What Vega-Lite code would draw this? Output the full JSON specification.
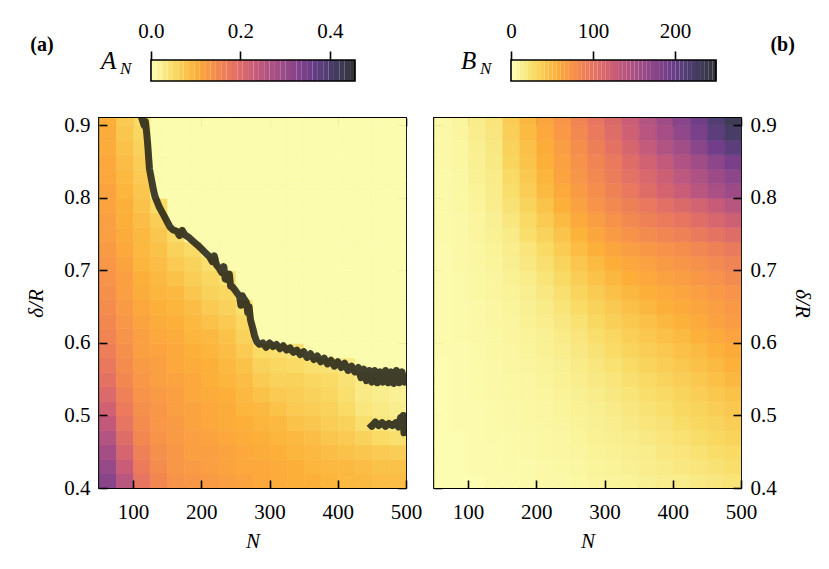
{
  "$schema": "https://vega.github.io/schema/vega-lite/v6.json",
  "autosize": {"type": "pad"},
  "padding": {"left": 24, "top": 20, "right": 5, "bottom": 5},
  "background": "white",
  "datasets": {
    "grid": [
      {"n":62,"d":0.41,"a":0.32,"b":2},{"n":87,"d":0.41,"a":0.25,"b":2},{"n":112,"d":0.41,"a":0.18,"b":2},{"n":137,"d":0.41,"a":0.15,"b":3},{"n":162,"d":0.41,"a":0.135,"b":3},{"n":187,"d":0.41,"a":0.13,"b":4},{"n":212,"d":0.41,"a":0.125,"b":5},{"n":237,"d":0.41,"a":0.12,"b":5},{"n":262,"d":0.41,"a":0.115,"b":6},{"n":287,"d":0.41,"a":0.11,"b":8},{"n":312,"d":0.41,"a":0.105,"b":9},{"n":337,"d":0.41,"a":0.1,"b":10},{"n":362,"d":0.41,"a":0.1,"b":12},{"n":387,"d":0.41,"a":0.095,"b":14},{"n":412,"d":0.41,"a":0.09,"b":15},{"n":437,"d":0.41,"a":0.09,"b":17},{"n":462,"d":0.41,"a":0.085,"b":19},{"n":487,"d":0.41,"a":0.085,"b":21},
      {"n":62,"d":0.43,"a":0.3,"b":2},{"n":87,"d":0.43,"a":0.23,"b":2},{"n":112,"d":0.43,"a":0.17,"b":3},{"n":137,"d":0.43,"a":0.145,"b":3},{"n":162,"d":0.43,"a":0.13,"b":4},{"n":187,"d":0.43,"a":0.125,"b":4},{"n":212,"d":0.43,"a":0.12,"b":5},{"n":237,"d":0.43,"a":0.115,"b":6},{"n":262,"d":0.43,"a":0.11,"b":7},{"n":287,"d":0.43,"a":0.11,"b":9},{"n":312,"d":0.43,"a":0.105,"b":10},{"n":337,"d":0.43,"a":0.1,"b":12},{"n":362,"d":0.43,"a":0.095,"b":14},{"n":387,"d":0.43,"a":0.09,"b":16},{"n":412,"d":0.43,"a":0.09,"b":18},{"n":437,"d":0.43,"a":0.085,"b":20},{"n":462,"d":0.43,"a":0.08,"b":22},{"n":487,"d":0.43,"a":0.08,"b":25},
      {"n":62,"d":0.45,"a":0.28,"b":2},{"n":87,"d":0.45,"a":0.21,"b":2},{"n":112,"d":0.45,"a":0.16,"b":3},{"n":137,"d":0.45,"a":0.14,"b":3},{"n":162,"d":0.45,"a":0.13,"b":4},{"n":187,"d":0.45,"a":0.12,"b":5},{"n":212,"d":0.45,"a":0.12,"b":6},{"n":237,"d":0.45,"a":0.115,"b":7},{"n":262,"d":0.45,"a":0.11,"b":8},{"n":287,"d":0.45,"a":0.105,"b":10},{"n":312,"d":0.45,"a":0.1,"b":11},{"n":337,"d":0.45,"a":0.095,"b":13},{"n":362,"d":0.45,"a":0.09,"b":15},{"n":387,"d":0.45,"a":0.085,"b":18},{"n":412,"d":0.45,"a":0.08,"b":20},{"n":437,"d":0.45,"a":0.075,"b":23},{"n":462,"d":0.45,"a":0.07,"b":26},{"n":487,"d":0.45,"a":0.065,"b":28},
      {"n":62,"d":0.47,"a":0.26,"b":2},{"n":87,"d":0.47,"a":0.195,"b":2},{"n":112,"d":0.47,"a":0.15,"b":3},{"n":137,"d":0.47,"a":0.135,"b":4},{"n":162,"d":0.47,"a":0.125,"b":4},{"n":187,"d":0.47,"a":0.12,"b":5},{"n":212,"d":0.47,"a":0.115,"b":6},{"n":237,"d":0.47,"a":0.11,"b":7},{"n":262,"d":0.47,"a":0.105,"b":9},{"n":287,"d":0.47,"a":0.1,"b":11},{"n":312,"d":0.47,"a":0.095,"b":13},{"n":337,"d":0.47,"a":0.09,"b":15},{"n":362,"d":0.47,"a":0.085,"b":17},{"n":387,"d":0.47,"a":0.075,"b":20},{"n":412,"d":0.47,"a":0.07,"b":23},{"n":437,"d":0.47,"a":0.06,"b":26},{"n":462,"d":0.47,"a":0.05,"b":29},{"n":487,"d":0.47,"a":0.045,"b":32},
      {"n":62,"d":0.49,"a":0.24,"b":2},{"n":87,"d":0.49,"a":0.18,"b":3},{"n":112,"d":0.49,"a":0.145,"b":3},{"n":137,"d":0.49,"a":0.13,"b":4},{"n":162,"d":0.49,"a":0.125,"b":5},{"n":187,"d":0.49,"a":0.115,"b":6},{"n":212,"d":0.49,"a":0.11,"b":7},{"n":237,"d":0.49,"a":0.105,"b":8},{"n":262,"d":0.49,"a":0.1,"b":10},{"n":287,"d":0.49,"a":0.095,"b":12},{"n":312,"d":0.49,"a":0.09,"b":14},{"n":337,"d":0.49,"a":0.08,"b":17},{"n":362,"d":0.49,"a":0.075,"b":20},{"n":387,"d":0.49,"a":0.065,"b":22},{"n":412,"d":0.49,"a":0.06,"b":26},{"n":437,"d":0.49,"a":0.045,"b":29},{"n":462,"d":0.49,"a":0.035,"b":32},{"n":487,"d":0.49,"a":0.03,"b":36},
      {"n":62,"d":0.51,"a":0.22,"b":2},{"n":87,"d":0.51,"a":0.17,"b":3},{"n":112,"d":0.51,"a":0.14,"b":3},{"n":137,"d":0.51,"a":0.13,"b":4},{"n":162,"d":0.51,"a":0.12,"b":5},{"n":187,"d":0.51,"a":0.115,"b":6},{"n":212,"d":0.51,"a":0.11,"b":7},{"n":237,"d":0.51,"a":0.105,"b":9},{"n":262,"d":0.51,"a":0.095,"b":11},{"n":287,"d":0.51,"a":0.09,"b":13},{"n":312,"d":0.51,"a":0.08,"b":16},{"n":337,"d":0.51,"a":0.07,"b":19},{"n":362,"d":0.51,"a":0.065,"b":22},{"n":387,"d":0.51,"a":0.06,"b":25},{"n":412,"d":0.51,"a":0.05,"b":29},{"n":437,"d":0.51,"a":0.035,"b":32},{"n":462,"d":0.51,"a":0.03,"b":36},{"n":487,"d":0.51,"a":0.025,"b":40},
      {"n":62,"d":0.53,"a":0.2,"b":2},{"n":87,"d":0.53,"a":0.16,"b":3},{"n":112,"d":0.53,"a":0.135,"b":4},{"n":137,"d":0.53,"a":0.125,"b":5},{"n":162,"d":0.53,"a":0.12,"b":6},{"n":187,"d":0.53,"a":0.11,"b":7},{"n":212,"d":0.53,"a":0.105,"b":8},{"n":237,"d":0.53,"a":0.1,"b":10},{"n":262,"d":0.53,"a":0.09,"b":12},{"n":287,"d":0.53,"a":0.08,"b":15},{"n":312,"d":0.53,"a":0.07,"b":18},{"n":337,"d":0.53,"a":0.065,"b":21},{"n":362,"d":0.53,"a":0.06,"b":25},{"n":387,"d":0.53,"a":0.055,"b":28},{"n":412,"d":0.53,"a":0.045,"b":32},{"n":437,"d":0.53,"a":0.03,"b":36},{"n":462,"d":0.53,"a":0.025,"b":40},{"n":487,"d":0.53,"a":0.02,"b":44},
      {"n":62,"d":0.55,"a":0.185,"b":2},{"n":87,"d":0.55,"a":0.15,"b":3},{"n":112,"d":0.55,"a":0.13,"b":4},{"n":137,"d":0.55,"a":0.12,"b":5},{"n":162,"d":0.55,"a":0.115,"b":6},{"n":187,"d":0.55,"a":0.11,"b":7},{"n":212,"d":0.55,"a":0.1,"b":9},{"n":237,"d":0.55,"a":0.095,"b":11},{"n":262,"d":0.55,"a":0.085,"b":14},{"n":287,"d":0.55,"a":0.07,"b":17},{"n":312,"d":0.55,"a":0.06,"b":20},{"n":337,"d":0.55,"a":0.06,"b":24},{"n":362,"d":0.55,"a":0.055,"b":28},{"n":387,"d":0.55,"a":0.05,"b":32},{"n":412,"d":0.55,"a":0.04,"b":36},{"n":437,"d":0.55,"a":0.03,"b":40},{"n":462,"d":0.55,"a":0.025,"b":45},{"n":487,"d":0.55,"a":0.02,"b":50},
      {"n":62,"d":0.57,"a":0.175,"b":2},{"n":87,"d":0.57,"a":0.145,"b":3},{"n":112,"d":0.57,"a":0.125,"b":4},{"n":137,"d":0.57,"a":0.12,"b":5},{"n":162,"d":0.57,"a":0.11,"b":7},{"n":187,"d":0.57,"a":0.105,"b":8},{"n":212,"d":0.57,"a":0.1,"b":10},{"n":237,"d":0.57,"a":0.09,"b":12},{"n":262,"d":0.57,"a":0.08,"b":16},{"n":287,"d":0.57,"a":0.06,"b":19},{"n":312,"d":0.57,"a":0.055,"b":23},{"n":337,"d":0.57,"a":0.05,"b":27},{"n":362,"d":0.57,"a":0.045,"b":32},{"n":387,"d":0.57,"a":0.04,"b":36},{"n":412,"d":0.57,"a":0.03,"b":40},{"n":437,"d":0.57,"a":0.005,"b":45},{"n":462,"d":0.57,"a":0.005,"b":49},{"n":487,"d":0.57,"a":0.005,"b":54},
      {"n":62,"d":0.59,"a":0.165,"b":3},{"n":87,"d":0.59,"a":0.14,"b":3},{"n":112,"d":0.59,"a":0.12,"b":4},{"n":137,"d":0.59,"a":0.115,"b":6},{"n":162,"d":0.59,"a":0.11,"b":7},{"n":187,"d":0.59,"a":0.1,"b":9},{"n":212,"d":0.59,"a":0.095,"b":11},{"n":237,"d":0.59,"a":0.085,"b":14},{"n":262,"d":0.59,"a":0.07,"b":18},{"n":287,"d":0.59,"a":0.05,"b":22},{"n":312,"d":0.59,"a":0.045,"b":27},{"n":337,"d":0.59,"a":0.04,"b":31},{"n":362,"d":0.59,"a":0.005,"b":36},{"n":387,"d":0.59,"a":0.005,"b":40},{"n":412,"d":0.59,"a":0.005,"b":45},{"n":437,"d":0.59,"a":0.005,"b":49},{"n":462,"d":0.59,"a":0.005,"b":54},{"n":487,"d":0.59,"a":0.005,"b":58},
      {"n":62,"d":0.61,"a":0.155,"b":3},{"n":87,"d":0.61,"a":0.135,"b":4},{"n":112,"d":0.61,"a":0.12,"b":5},{"n":137,"d":0.61,"a":0.11,"b":6},{"n":162,"d":0.61,"a":0.105,"b":8},{"n":187,"d":0.61,"a":0.095,"b":10},{"n":212,"d":0.61,"a":0.09,"b":12},{"n":237,"d":0.61,"a":0.08,"b":16},{"n":262,"d":0.61,"a":0.06,"b":20},{"n":287,"d":0.61,"a":0.005,"b":25},{"n":312,"d":0.61,"a":0.005,"b":30},{"n":337,"d":0.61,"a":0.005,"b":35},{"n":362,"d":0.61,"a":0.005,"b":40},{"n":387,"d":0.61,"a":0.005,"b":45},{"n":412,"d":0.61,"a":0.005,"b":49},{"n":437,"d":0.61,"a":0.005,"b":54},{"n":462,"d":0.61,"a":0.005,"b":59},{"n":487,"d":0.61,"a":0.005,"b":63},
      {"n":62,"d":0.63,"a":0.15,"b":3},{"n":87,"d":0.63,"a":0.13,"b":4},{"n":112,"d":0.63,"a":0.115,"b":5},{"n":137,"d":0.63,"a":0.105,"b":7},{"n":162,"d":0.63,"a":0.1,"b":8},{"n":187,"d":0.63,"a":0.09,"b":11},{"n":212,"d":0.63,"a":0.08,"b":14},{"n":237,"d":0.63,"a":0.07,"b":18},{"n":262,"d":0.63,"a":0.055,"b":23},{"n":287,"d":0.63,"a":0.005,"b":29},{"n":312,"d":0.63,"a":0.005,"b":35},{"n":337,"d":0.63,"a":0.005,"b":40},{"n":362,"d":0.63,"a":0.005,"b":45},{"n":387,"d":0.63,"a":0.005,"b":50},{"n":412,"d":0.63,"a":0.005,"b":54},{"n":437,"d":0.63,"a":0.005,"b":59},{"n":462,"d":0.63,"a":0.005,"b":64},{"n":487,"d":0.63,"a":0.005,"b":68},
      {"n":62,"d":0.65,"a":0.145,"b":3},{"n":87,"d":0.65,"a":0.125,"b":4},{"n":112,"d":0.65,"a":0.11,"b":5},{"n":137,"d":0.65,"a":0.1,"b":7},{"n":162,"d":0.65,"a":0.095,"b":9},{"n":187,"d":0.65,"a":0.085,"b":12},{"n":212,"d":0.65,"a":0.07,"b":16},{"n":237,"d":0.65,"a":0.06,"b":21},{"n":262,"d":0.65,"a":0.045,"b":27},{"n":287,"d":0.65,"a":0.005,"b":33},{"n":312,"d":0.65,"a":0.005,"b":39},{"n":337,"d":0.65,"a":0.005,"b":45},{"n":362,"d":0.65,"a":0.005,"b":50},{"n":387,"d":0.65,"a":0.005,"b":55},{"n":412,"d":0.65,"a":0.005,"b":58},{"n":437,"d":0.65,"a":0.005,"b":62},{"n":462,"d":0.65,"a":0.005,"b":66},{"n":487,"d":0.65,"a":0.005,"b":70},
      {"n":62,"d":0.67,"a":0.14,"b":3},{"n":87,"d":0.67,"a":0.12,"b":4},{"n":112,"d":0.67,"a":0.105,"b":6},{"n":137,"d":0.67,"a":0.095,"b":8},{"n":162,"d":0.67,"a":0.09,"b":10},{"n":187,"d":0.67,"a":0.075,"b":13},{"n":212,"d":0.67,"a":0.06,"b":18},{"n":237,"d":0.67,"a":0.055,"b":24},{"n":262,"d":0.67,"a":0.005,"b":31},{"n":287,"d":0.67,"a":0.005,"b":38},{"n":312,"d":0.67,"a":0.005,"b":45},{"n":337,"d":0.67,"a":0.005,"b":50},{"n":362,"d":0.67,"a":0.005,"b":55},{"n":387,"d":0.67,"a":0.005,"b":59},{"n":412,"d":0.67,"a":0.005,"b":62},{"n":437,"d":0.67,"a":0.005,"b":66},{"n":462,"d":0.67,"a":0.005,"b":70},{"n":487,"d":0.67,"a":0.005,"b":74},
      {"n":62,"d":0.69,"a":0.135,"b":3},{"n":87,"d":0.69,"a":0.12,"b":4},{"n":112,"d":0.69,"a":0.1,"b":6},{"n":137,"d":0.69,"a":0.09,"b":8},{"n":162,"d":0.69,"a":0.08,"b":11},{"n":187,"d":0.69,"a":0.065,"b":15},{"n":212,"d":0.69,"a":0.055,"b":21},{"n":237,"d":0.69,"a":0.045,"b":28},{"n":262,"d":0.69,"a":0.005,"b":36},{"n":287,"d":0.69,"a":0.005,"b":44},{"n":312,"d":0.69,"a":0.005,"b":50},{"n":337,"d":0.69,"a":0.005,"b":56},{"n":362,"d":0.69,"a":0.005,"b":60},{"n":387,"d":0.69,"a":0.005,"b":64},{"n":412,"d":0.69,"a":0.005,"b":67},{"n":437,"d":0.69,"a":0.005,"b":71},{"n":462,"d":0.69,"a":0.005,"b":75},{"n":487,"d":0.69,"a":0.005,"b":80},
      {"n":62,"d":0.71,"a":0.13,"b":3},{"n":87,"d":0.71,"a":0.115,"b":5},{"n":112,"d":0.71,"a":0.095,"b":7},{"n":137,"d":0.71,"a":0.085,"b":9},{"n":162,"d":0.71,"a":0.07,"b":13},{"n":187,"d":0.71,"a":0.06,"b":18},{"n":212,"d":0.71,"a":0.045,"b":24},{"n":237,"d":0.71,"a":0.005,"b":32},{"n":262,"d":0.71,"a":0.005,"b":41},{"n":287,"d":0.71,"a":0.005,"b":49},{"n":312,"d":0.71,"a":0.005,"b":56},{"n":337,"d":0.71,"a":0.005,"b":61},{"n":362,"d":0.71,"a":0.005,"b":65},{"n":387,"d":0.71,"a":0.005,"b":69},{"n":412,"d":0.71,"a":0.005,"b":72},{"n":437,"d":0.71,"a":0.005,"b":76},{"n":462,"d":0.71,"a":0.005,"b":81},{"n":487,"d":0.71,"a":0.005,"b":86},
      {"n":62,"d":0.73,"a":0.125,"b":3},{"n":87,"d":0.73,"a":0.11,"b":5},{"n":112,"d":0.73,"a":0.09,"b":7},{"n":137,"d":0.73,"a":0.08,"b":10},{"n":162,"d":0.73,"a":0.06,"b":14},{"n":187,"d":0.73,"a":0.05,"b":20},{"n":212,"d":0.73,"a":0.005,"b":28},{"n":237,"d":0.73,"a":0.005,"b":37},{"n":262,"d":0.73,"a":0.005,"b":47},{"n":287,"d":0.73,"a":0.005,"b":55},{"n":312,"d":0.73,"a":0.005,"b":62},{"n":337,"d":0.73,"a":0.005,"b":67},{"n":362,"d":0.73,"a":0.005,"b":71},{"n":387,"d":0.73,"a":0.005,"b":75},{"n":412,"d":0.73,"a":0.005,"b":78},{"n":437,"d":0.73,"a":0.005,"b":83},{"n":462,"d":0.73,"a":0.005,"b":88},{"n":487,"d":0.73,"a":0.005,"b":94},
      {"n":62,"d":0.75,"a":0.12,"b":4},{"n":87,"d":0.75,"a":0.105,"b":5},{"n":112,"d":0.75,"a":0.09,"b":8},{"n":137,"d":0.75,"a":0.075,"b":11},{"n":162,"d":0.75,"a":0.05,"b":16},{"n":187,"d":0.75,"a":0.005,"b":25},{"n":212,"d":0.75,"a":0.005,"b":33},{"n":237,"d":0.75,"a":0.005,"b":43},{"n":262,"d":0.75,"a":0.005,"b":53},{"n":287,"d":0.75,"a":0.005,"b":62},{"n":312,"d":0.75,"a":0.005,"b":69},{"n":337,"d":0.75,"a":0.005,"b":75},{"n":362,"d":0.75,"a":0.005,"b":80},{"n":387,"d":0.75,"a":0.005,"b":84},{"n":412,"d":0.75,"a":0.005,"b":88},{"n":437,"d":0.75,"a":0.005,"b":94},{"n":462,"d":0.75,"a":0.005,"b":100},{"n":487,"d":0.75,"a":0.005,"b":107},
      {"n":62,"d":0.77,"a":0.12,"b":4},{"n":87,"d":0.77,"a":0.1,"b":5},{"n":112,"d":0.77,"a":0.085,"b":8},{"n":137,"d":0.77,"a":0.065,"b":12},{"n":162,"d":0.77,"a":0.005,"b":19},{"n":187,"d":0.77,"a":0.005,"b":28},{"n":212,"d":0.77,"a":0.005,"b":38},{"n":237,"d":0.77,"a":0.005,"b":49},{"n":262,"d":0.77,"a":0.005,"b":59},{"n":287,"d":0.77,"a":0.005,"b":67},{"n":312,"d":0.77,"a":0.005,"b":75},{"n":337,"d":0.77,"a":0.005,"b":82},{"n":362,"d":0.77,"a":0.005,"b":88},{"n":387,"d":0.77,"a":0.005,"b":93},{"n":412,"d":0.77,"a":0.005,"b":98},{"n":437,"d":0.77,"a":0.005,"b":105},{"n":462,"d":0.77,"a":0.005,"b":113},{"n":487,"d":0.77,"a":0.005,"b":122},
      {"n":62,"d":0.79,"a":0.115,"b":4},{"n":87,"d":0.79,"a":0.1,"b":6},{"n":112,"d":0.79,"a":0.08,"b":9},{"n":137,"d":0.79,"a":0.05,"b":14},{"n":162,"d":0.79,"a":0.005,"b":22},{"n":187,"d":0.79,"a":0.005,"b":32},{"n":212,"d":0.79,"a":0.005,"b":43},{"n":237,"d":0.79,"a":0.005,"b":55},{"n":262,"d":0.79,"a":0.005,"b":65},{"n":287,"d":0.79,"a":0.005,"b":74},{"n":312,"d":0.79,"a":0.005,"b":82},{"n":337,"d":0.79,"a":0.005,"b":89},{"n":362,"d":0.79,"a":0.005,"b":96},{"n":387,"d":0.79,"a":0.005,"b":103},{"n":412,"d":0.79,"a":0.005,"b":110},{"n":437,"d":0.79,"a":0.005,"b":118},{"n":462,"d":0.79,"a":0.005,"b":127},{"n":487,"d":0.79,"a":0.005,"b":138},
      {"n":62,"d":0.81,"a":0.115,"b":4},{"n":87,"d":0.81,"a":0.095,"b":6},{"n":112,"d":0.81,"a":0.075,"b":10},{"n":137,"d":0.81,"a":0.005,"b":15},{"n":162,"d":0.81,"a":0.005,"b":25},{"n":187,"d":0.81,"a":0.005,"b":36},{"n":212,"d":0.81,"a":0.005,"b":48},{"n":237,"d":0.81,"a":0.005,"b":59},{"n":262,"d":0.81,"a":0.005,"b":69},{"n":287,"d":0.81,"a":0.005,"b":78},{"n":312,"d":0.81,"a":0.005,"b":87},{"n":337,"d":0.81,"a":0.005,"b":96},{"n":362,"d":0.81,"a":0.005,"b":106},{"n":387,"d":0.81,"a":0.005,"b":116},{"n":412,"d":0.81,"a":0.005,"b":126},{"n":437,"d":0.81,"a":0.005,"b":137},{"n":462,"d":0.81,"a":0.005,"b":149},{"n":487,"d":0.81,"a":0.005,"b":160},
      {"n":62,"d":0.83,"a":0.11,"b":4},{"n":87,"d":0.83,"a":0.09,"b":6},{"n":112,"d":0.83,"a":0.07,"b":11},{"n":137,"d":0.83,"a":0.005,"b":16},{"n":162,"d":0.83,"a":0.005,"b":28},{"n":187,"d":0.83,"a":0.005,"b":40},{"n":212,"d":0.83,"a":0.005,"b":52},{"n":237,"d":0.83,"a":0.005,"b":63},{"n":262,"d":0.83,"a":0.005,"b":73},{"n":287,"d":0.83,"a":0.005,"b":82},{"n":312,"d":0.83,"a":0.005,"b":92},{"n":337,"d":0.83,"a":0.005,"b":102},{"n":362,"d":0.83,"a":0.005,"b":112},{"n":387,"d":0.83,"a":0.005,"b":123},{"n":412,"d":0.83,"a":0.005,"b":135},{"n":437,"d":0.83,"a":0.005,"b":147},{"n":462,"d":0.83,"a":0.005,"b":160},{"n":487,"d":0.83,"a":0.005,"b":172},
      {"n":62,"d":0.85,"a":0.11,"b":5},{"n":87,"d":0.85,"a":0.085,"b":7},{"n":112,"d":0.85,"a":0.065,"b":12},{"n":137,"d":0.85,"a":0.005,"b":17},{"n":162,"d":0.85,"a":0.005,"b":31},{"n":187,"d":0.85,"a":0.005,"b":43},{"n":212,"d":0.85,"a":0.005,"b":55},{"n":237,"d":0.85,"a":0.005,"b":65},{"n":262,"d":0.85,"a":0.005,"b":75},{"n":287,"d":0.85,"a":0.005,"b":85},{"n":312,"d":0.85,"a":0.005,"b":95},{"n":337,"d":0.85,"a":0.005,"b":106},{"n":362,"d":0.85,"a":0.005,"b":119},{"n":387,"d":0.85,"a":0.005,"b":131},{"n":412,"d":0.85,"a":0.005,"b":144},{"n":437,"d":0.85,"a":0.005,"b":158},{"n":462,"d":0.85,"a":0.005,"b":172},{"n":487,"d":0.85,"a":0.005,"b":187},
      {"n":62,"d":0.87,"a":0.105,"b":5},{"n":87,"d":0.87,"a":0.08,"b":7},{"n":112,"d":0.87,"a":0.06,"b":13},{"n":137,"d":0.87,"a":0.005,"b":18},{"n":162,"d":0.87,"a":0.005,"b":33},{"n":187,"d":0.87,"a":0.005,"b":45},{"n":212,"d":0.87,"a":0.005,"b":57},{"n":237,"d":0.87,"a":0.005,"b":67},{"n":262,"d":0.87,"a":0.005,"b":78},{"n":287,"d":0.87,"a":0.005,"b":90},{"n":312,"d":0.87,"a":0.005,"b":101},{"n":337,"d":0.87,"a":0.005,"b":114},{"n":362,"d":0.87,"a":0.005,"b":129},{"n":387,"d":0.87,"a":0.005,"b":143},{"n":412,"d":0.87,"a":0.005,"b":157},{"n":437,"d":0.87,"a":0.005,"b":173},{"n":462,"d":0.87,"a":0.005,"b":191},{"n":487,"d":0.87,"a":0.005,"b":206},
      {"n":62,"d":0.89,"a":0.105,"b":5},{"n":87,"d":0.89,"a":0.075,"b":8},{"n":112,"d":0.89,"a":0.055,"b":14},{"n":137,"d":0.89,"a":0.005,"b":19},{"n":162,"d":0.89,"a":0.005,"b":35},{"n":187,"d":0.89,"a":0.005,"b":48},{"n":212,"d":0.89,"a":0.005,"b":60},{"n":237,"d":0.89,"a":0.005,"b":70},{"n":262,"d":0.89,"a":0.005,"b":82},{"n":287,"d":0.89,"a":0.005,"b":95},{"n":312,"d":0.89,"a":0.005,"b":107},{"n":337,"d":0.89,"a":0.005,"b":121},{"n":362,"d":0.89,"a":0.005,"b":138},{"n":387,"d":0.89,"a":0.005,"b":153},{"n":412,"d":0.89,"a":0.005,"b":169},{"n":437,"d":0.89,"a":0.005,"b":186},{"n":462,"d":0.89,"a":0.005,"b":206},{"n":487,"d":0.89,"a":0.005,"b":223},
      {"n":62,"d":0.91,"a":0.1,"b":5},{"n":87,"d":0.91,"a":0.07,"b":8},{"n":112,"d":0.91,"a":0.05,"b":15},{"n":137,"d":0.91,"a":0.005,"b":20},{"n":162,"d":0.91,"a":0.005,"b":37},{"n":187,"d":0.91,"a":0.005,"b":50},{"n":212,"d":0.91,"a":0.005,"b":62},{"n":237,"d":0.91,"a":0.005,"b":72},{"n":262,"d":0.91,"a":0.005,"b":85},{"n":287,"d":0.91,"a":0.005,"b":98},{"n":312,"d":0.91,"a":0.005,"b":110},{"n":337,"d":0.91,"a":0.005,"b":125},{"n":362,"d":0.91,"a":0.005,"b":142},{"n":387,"d":0.91,"a":0.005,"b":158},{"n":412,"d":0.91,"a":0.005,"b":175},{"n":437,"d":0.91,"a":0.005,"b":193},{"n":462,"d":0.91,"a":0.005,"b":213},{"n":487,"d":0.91,"a":0.005,"b":232}
    ],
    "contour": [
      {"s":"m","n":112,"d":0.912},{"s":"m","n":116,"d":0.9},{"s":"m","n":118,"d":0.905},{"s":"m","n":120,"d":0.888},{"s":"m","n":121,"d":0.878},{"s":"m","n":122,"d":0.866},{"s":"m","n":123,"d":0.852},{"s":"m","n":124,"d":0.84},{"s":"m","n":126,"d":0.83},{"s":"m","n":128,"d":0.82},{"s":"m","n":130,"d":0.81},{"s":"m","n":132,"d":0.802},{"s":"m","n":135,"d":0.795},{"s":"m","n":138,"d":0.788},{"s":"m","n":142,"d":0.781},{"s":"m","n":146,"d":0.774},{"s":"m","n":150,"d":0.767},{"s":"m","n":154,"d":0.76},{"s":"m","n":158,"d":0.756},{"s":"m","n":164,"d":0.754},{"s":"m","n":168,"d":0.748},{"s":"m","n":172,"d":0.755},{"s":"m","n":176,"d":0.749},{"s":"m","n":182,"d":0.745},{"s":"m","n":188,"d":0.74},{"s":"m","n":194,"d":0.735},{"s":"m","n":200,"d":0.73},{"s":"m","n":206,"d":0.724},{"s":"m","n":212,"d":0.719},{"s":"m","n":216,"d":0.712},{"s":"m","n":219,"d":0.72},{"s":"m","n":222,"d":0.708},{"s":"m","n":226,"d":0.703},{"s":"m","n":230,"d":0.697},{"s":"m","n":233,"d":0.705},{"s":"m","n":235,"d":0.688},{"s":"m","n":238,"d":0.687},{"s":"m","n":241,"d":0.695},{"s":"m","n":243,"d":0.678},{"s":"m","n":246,"d":0.677},{"s":"m","n":250,"d":0.672},{"s":"m","n":253,"d":0.668},{"s":"m","n":256,"d":0.664},{"s":"m","n":258,"d":0.652},{"s":"m","n":260,"d":0.665},{"s":"m","n":263,"d":0.66},{"s":"m","n":266,"d":0.656},{"s":"m","n":268,"d":0.642},{"s":"m","n":270,"d":0.65},{"s":"m","n":272,"d":0.632},{"s":"m","n":274,"d":0.625},{"s":"m","n":276,"d":0.618},{"s":"m","n":278,"d":0.61},{"s":"m","n":281,"d":0.602},{"s":"m","n":285,"d":0.598},{"s":"m","n":290,"d":0.6},{"s":"m","n":295,"d":0.594},{"s":"m","n":300,"d":0.6},{"s":"m","n":305,"d":0.595},{"s":"m","n":310,"d":0.598},{"s":"m","n":315,"d":0.592},{"s":"m","n":320,"d":0.596},{"s":"m","n":325,"d":0.59},{"s":"m","n":330,"d":0.593},{"s":"m","n":335,"d":0.587},{"s":"m","n":340,"d":0.59},{"s":"m","n":345,"d":0.584},{"s":"m","n":350,"d":0.588},{"s":"m","n":355,"d":0.58},{"s":"m","n":360,"d":0.585},{"s":"m","n":365,"d":0.577},{"s":"m","n":370,"d":0.582},{"s":"m","n":375,"d":0.574},{"s":"m","n":380,"d":0.579},{"s":"m","n":385,"d":0.571},{"s":"m","n":390,"d":0.576},{"s":"m","n":395,"d":0.568},{"s":"m","n":400,"d":0.574},{"s":"m","n":405,"d":0.566},{"s":"m","n":410,"d":0.572},{"s":"m","n":415,"d":0.562},{"s":"m","n":420,"d":0.568},{"s":"m","n":425,"d":0.56},{"s":"m","n":430,"d":0.566},{"s":"m","n":434,"d":0.552},{"s":"m","n":438,"d":0.564},{"s":"m","n":442,"d":0.548},{"s":"m","n":446,"d":0.562},{"s":"m","n":450,"d":0.546},{"s":"m","n":454,"d":0.562},{"s":"m","n":458,"d":0.545},{"s":"m","n":462,"d":0.56},{"s":"m","n":466,"d":0.546},{"s":"m","n":470,"d":0.562},{"s":"m","n":474,"d":0.545},{"s":"m","n":478,"d":0.56},{"s":"m","n":482,"d":0.544},{"s":"m","n":486,"d":0.562},{"s":"m","n":490,"d":0.545},{"s":"m","n":494,"d":0.56},{"s":"m","n":498,"d":0.546},{"s":"m","n":500,"d":0.556},
      {"s":"f","n":446,"d":0.489},{"s":"f","n":450,"d":0.485},{"s":"f","n":455,"d":0.491},{"s":"f","n":460,"d":0.486},{"s":"f","n":465,"d":0.49},{"s":"f","n":470,"d":0.485},{"s":"f","n":475,"d":0.489},{"s":"f","n":480,"d":0.486},{"s":"f","n":485,"d":0.49},{"s":"f","n":489,"d":0.484},{"s":"f","n":492,"d":0.497},{"s":"f","n":494,"d":0.486},{"s":"f","n":496,"d":0.5},{"s":"f","n":497,"d":0.476},{"s":"f","n":499,"d":0.495}
    ],
    "cba": [
      {"va":0.006},{"va":0.018},{"va":0.03},{"va":0.042},{"va":0.054},{"va":0.066},{"va":0.078},{"va":0.09},{"va":0.102},{"va":0.114},{"va":0.126},{"va":0.138},{"va":0.15},{"va":0.162},{"va":0.174},{"va":0.186},{"va":0.198},{"va":0.21},{"va":0.222},{"va":0.234},{"va":0.246},{"va":0.258},{"va":0.27},{"va":0.282},{"va":0.294},{"va":0.306},{"va":0.318},{"va":0.33},{"va":0.342},{"va":0.354},{"va":0.366},{"va":0.378},{"va":0.39},{"va":0.402},{"va":0.414},{"va":0.426},{"va":0.438},{"va":0.45}
    ],
    "cbb": [
      {"vb":2.5},{"vb":7.5},{"vb":12.5},{"vb":17.5},{"vb":22.5},{"vb":27.5},{"vb":32.5},{"vb":37.5},{"vb":42.5},{"vb":47.5},{"vb":52.5},{"vb":57.5},{"vb":62.5},{"vb":67.5},{"vb":72.5},{"vb":77.5},{"vb":82.5},{"vb":87.5},{"vb":92.5},{"vb":97.5},{"vb":102.5},{"vb":107.5},{"vb":112.5},{"vb":117.5},{"vb":122.5},{"vb":127.5},{"vb":132.5},{"vb":137.5},{"vb":142.5},{"vb":147.5},{"vb":152.5},{"vb":157.5},{"vb":162.5},{"vb":167.5},{"vb":172.5},{"vb":177.5},{"vb":182.5},{"vb":187.5},{"vb":192.5},{"vb":197.5},{"vb":202.5},{"vb":207.5},{"vb":212.5},{"vb":217.5},{"vb":222.5},{"vb":227.5},{"vb":232.5},{"vb":237.5},{"vb":242.5},{"vb":247.5}
    ]
  },
  "columns": 2,
  "bounds": "flush",
  "align": "each",
  "spacing": {"row": 37, "column": 28},
  "concat": [
    {
      "width": 307,
      "height": 21,
      "view": {"stroke": null},
      "title": {"text": "(a)", "orient": "left", "angle": 0, "align": "right", "baseline": "middle", "anchor": "middle", "offset": 22, "dy": -26, "fontSize": 20, "fontWeight": "bold", "font": "Liberation Serif", "color": "black"},
      "layer": [
        {
          "data": {"name": "cba"},
          "mark": {"type": "rect", "binSpacing": 0},
          "encoding": {
            "x": {"field": "va", "type": "quantitative", "bin": {"extent": [0, 0.456], "step": 0.012, "nice": false},
                  "scale": {"domain": [-0.1162, 0.5702], "nice": false, "zero": false},
                  "axis": {"orient": "top", "values": [0, 0.2, 0.4], "format": ".1f", "title": null, "tickSize": 9, "labelPadding": 10}},
            "color": {"field": "va", "type": "quantitative", "legend": null,
                      "scale": {"domain": [0, 0.456], "range": ["#fdffb6", "#f9da64", "#fcaf38", "#f18751", "#d9696b", "#b75680", "#934989", "#6e3d89", "#493d67", "#333336"]}}
          }
        },
        {
          "data": {"values": [{"lo": 0, "hi": 0.456}]},
          "mark": {"type": "rect", "fill": "white", "fillOpacity": 0, "stroke": "black", "strokeWidth": 1.6},
          "encoding": {"x": {"field": "lo", "type": "quantitative"}, "x2": {"field": "hi"}}
        },
        {
          "data": {"values": [{"t": "A"}]},
          "mark": {"type": "text", "font": "Liberation Serif", "fontStyle": "italic", "fontSize": 25, "align": "left", "baseline": "alphabetic", "dy": -2},
          "encoding": {"x": {"datum": -0.1117}, "text": {"field": "t"}}
        },
        {
          "data": {"values": [{"t": "N"}]},
          "mark": {"type": "text", "font": "Liberation Serif", "fontStyle": "italic", "fontSize": 17, "align": "left", "baseline": "alphabetic", "dx": 19, "dy": 3},
          "encoding": {"x": {"datum": -0.1117}, "text": {"field": "t"}}
        }
      ]
    },
    {
      "width": 307,
      "height": 21,
      "view": {"stroke": null},
      "title": {"text": "(b)", "orient": "right", "angle": 0, "align": "left", "baseline": "middle", "anchor": "middle", "offset": 5, "dy": -26, "fontSize": 20, "fontWeight": "bold", "font": "Liberation Serif", "color": "black"},
      "layer": [
        {
          "data": {"name": "cbb"},
          "mark": {"type": "rect", "binSpacing": 0},
          "encoding": {
            "x": {"field": "vb", "type": "quantitative", "bin": {"extent": [0, 250], "step": 5, "nice": false},
                  "scale": {"domain": [-93.9, 280.5], "nice": false, "zero": false},
                  "axis": {"orient": "top", "values": [0, 100, 200], "format": "d", "title": null, "tickSize": 9, "labelPadding": 10}},
            "color": {"field": "vb", "type": "quantitative", "legend": null,
                      "scale": {"domain": [0, 250], "range": ["#fdffb6", "#f9da64", "#fcaf38", "#f18751", "#d9696b", "#b75680", "#934989", "#6e3d89", "#493d67", "#333336"]}}
          }
        },
        {
          "data": {"values": [{"lo": 0, "hi": 250}]},
          "mark": {"type": "rect", "fill": "white", "fillOpacity": 0, "stroke": "black", "strokeWidth": 1.6},
          "encoding": {"x": {"field": "lo", "type": "quantitative"}, "x2": {"field": "hi"}}
        },
        {
          "data": {"values": [{"t": "B"}]},
          "mark": {"type": "text", "font": "Liberation Serif", "fontStyle": "italic", "fontSize": 25, "align": "left", "baseline": "alphabetic", "dy": -2},
          "encoding": {"x": {"datum": -61.0}, "text": {"field": "t"}}
        },
        {
          "data": {"values": [{"t": "N"}]},
          "mark": {"type": "text", "font": "Liberation Serif", "fontStyle": "italic", "fontSize": 17, "align": "left", "baseline": "alphabetic", "dx": 19, "dy": 3},
          "encoding": {"x": {"datum": -61.0}, "text": {"field": "t"}}
        }
      ]
    },
    {
      "width": 307,
      "height": 370,
      "layer": [
        {
          "data": {"name": "grid"},
          "mark": {"type": "rect", "binSpacing": 0, "clip": true, "strokeWidth": 0.6},
          "encoding": {
            "x": {"field": "n", "type": "quantitative", "bin": {"extent": [50, 500], "step": 25, "nice": false},
                  "scale": {"domain": [50, 500], "nice": false, "zero": false},
                  "axis": {"orient": "bottom", "values": [100, 200, 300, 400, 500], "format": "d", "title": "N", "tickSize": -8, "labelPadding": 21, "titlePadding": 8}},
            "y": {"field": "d", "type": "quantitative", "bin": {"extent": [0.4, 0.92], "step": 0.02, "nice": false},
                  "scale": {"domain": [0.4, 0.91], "nice": false, "zero": false},
                  "axis": {"orient": "left", "values": [0.4, 0.5, 0.6, 0.7, 0.8, 0.9], "format": ".1f", "title": "δ/R", "tickSize": -8, "labelPadding": 17, "titlePadding": 17}},
            "color": {"field": "a", "type": "quantitative", "legend": null,
                      "scale": {"domain": [0, 0.456], "range": ["#fdffb6", "#f9da64", "#fcaf38", "#f18751", "#d9696b", "#b75680", "#934989", "#6e3d89", "#493d67", "#333336"]}},
            "stroke": {"field": "a", "type": "quantitative", "legend": null,
                      "scale": {"domain": [0, 0.456], "range": ["#fdffb6", "#f9da64", "#fcaf38", "#f18751", "#d9696b", "#b75680", "#934989", "#6e3d89", "#493d67", "#333336"]}}
          }
        },
        {
          "data": {"name": "contour"},
          "mark": {"type": "line", "color": "#1e1e16", "strokeWidth": 7, "opacity": 0.85, "clip": true, "strokeJoin": "round"},
          "encoding": {
            "x": {"field": "n", "type": "quantitative", "axis": {"orient": "top", "values": [100, 200, 300, 400, 500], "labels": false, "title": null, "tickSize": -8}},
            "y": {"field": "d", "type": "quantitative", "axis": {"orient": "right", "values": [0.4, 0.5, 0.6, 0.7, 0.8, 0.9], "labels": false, "title": null, "tickSize": -8}},
            "detail": {"field": "s"}
          }
        }
      ],
      "resolve": {"axis": {"x": "independent", "y": "independent"}}
    },
    {
      "width": 307,
      "height": 370,
      "data": {"name": "grid"},
      "layer": [
        {
          "mark": {"type": "rect", "binSpacing": 0, "clip": true, "strokeWidth": 0.6},
          "encoding": {
            "x": {"field": "n", "type": "quantitative", "bin": {"extent": [50, 500], "step": 25, "nice": false},
                  "scale": {"domain": [50, 500], "nice": false, "zero": false},
                  "axis": {"orient": "bottom", "values": [100, 200, 300, 400, 500], "format": "d", "title": "N", "tickSize": -8, "labelPadding": 21, "titlePadding": 8}},
            "y": {"field": "d", "type": "quantitative", "bin": {"extent": [0.4, 0.92], "step": 0.02, "nice": false},
                  "scale": {"domain": [0.4, 0.91], "nice": false, "zero": false},
                  "axis": {"orient": "right", "values": [0.4, 0.5, 0.6, 0.7, 0.8, 0.9], "format": ".1f", "title": "δ/R", "tickSize": -8, "labelPadding": 17, "titlePadding": 15}},
            "color": {"field": "b", "type": "quantitative", "legend": null,
                      "scale": {"domain": [0, 250], "range": ["#fdffb6", "#f9da64", "#fcaf38", "#f18751", "#d9696b", "#b75680", "#934989", "#6e3d89", "#493d67", "#333336"]}},
            "stroke": {"field": "b", "type": "quantitative", "legend": null,
                      "scale": {"domain": [0, 250], "range": ["#fdffb6", "#f9da64", "#fcaf38", "#f18751", "#d9696b", "#b75680", "#934989", "#6e3d89", "#493d67", "#333336"]}}
          }
        },
        {
          "mark": {"type": "point", "opacity": 0},
          "encoding": {
            "x": {"field": "n", "type": "quantitative", "axis": {"orient": "top", "values": [100, 200, 300, 400, 500], "labels": false, "title": null, "tickSize": -8}},
            "y": {"field": "d", "type": "quantitative", "axis": {"orient": "left", "values": [0.4, 0.5, 0.6, 0.7, 0.8, 0.9], "labels": false, "title": null, "tickSize": -8}}
          }
        }
      ],
      "resolve": {"axis": {"x": "independent", "y": "independent"}}
    }
  ],
  "resolve": {"scale": {"x": "independent", "y": "independent", "color": "independent", "stroke": "independent"}},
  "config": {
    "font": "Liberation Serif",
    "view": {"stroke": "black", "strokeWidth": 1.8},
    "axis": {
      "labelFont": "Liberation Serif", "labelFontSize": 21, "labelColor": "black", "labelFlush": false, "labelOverlap": false,
      "tickColor": "black", "tickWidth": 1.6, "domain": false, "grid": false,
      "titleFont": "Liberation Serif", "titleFontSize": 21, "titleFontStyle": "italic", "titleFontWeight": "normal", "titleColor": "black"
    }
  }
}
